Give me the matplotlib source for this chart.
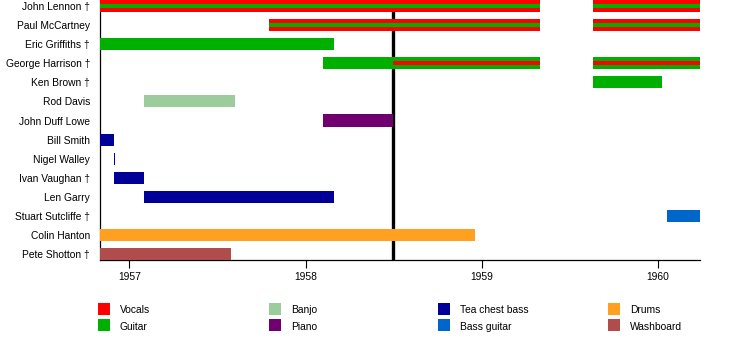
import matplotlib
matplotlib.use("Agg")
import matplotlib.pyplot as plt
import matplotlib.dates as mdates
from matplotlib.patches import Rectangle
from datetime import date

plt.rcParams['font.family'] = ['Liberation Sans', 'DejaVu Sans']
plt.rcParams['font.size'] = 7.4

# rows, top to bottom
members = ["John Lennon †", "Paul McCartney", "Eric Griffiths †", "George Harrison †",
           "Ken Brown †", "Rod Davis", "John Duff Lowe", "Bill Smith", "Nigel Walley",
           "Ivan Vaughan †", "Len Garry", "Stuart Sutcliffe †", "Colin Hanton",
           "Pete Shotton †"]

instruments = ["Vocals", "Guitar", "Banjo", "Piano", "Tea chest bass",
               "Bass guitar", "Drums", "Washboard"]
inst_colours = ["#ff0000", "#00b000", "#9ccc9c", "#700070", "#000099",
                "#0066cc", "#ffa020", "#b04c4c"]

period_start = date(1956, 11, 1)
period_end = date(1960, 3, 28)
recording_date = date(1958, 7, 1)

# one entry per bar: who, from, till, instrument, stripe instrument (None = plain bar)
span_member = ["John Lennon †", "John Lennon †",
               "Paul McCartney", "Paul McCartney",
               "Eric Griffiths †",
               "George Harrison †", "George Harrison †", "George Harrison †",
               "Ken Brown †", "Rod Davis", "John Duff Lowe", "Bill Smith",
               "Nigel Walley", "Ivan Vaughan †", "Len Garry", "Stuart Sutcliffe †",
               "Colin Hanton", "Pete Shotton †"]
span_start = [date(1956, 11, 1), date(1959, 8, 20),
              date(1957, 10, 18), date(1959, 8, 20),
              date(1956, 11, 1),
              date(1958, 2, 6), date(1958, 7, 1), date(1959, 8, 20),
              date(1959, 8, 20), date(1957, 2, 1), date(1958, 2, 6), date(1956, 11, 1),
              date(1956, 12, 1), date(1956, 12, 1), date(1957, 2, 1), date(1960, 1, 20),
              date(1956, 11, 1), date(1956, 11, 1)]
span_end = [date(1959, 5, 1), period_end,
            date(1959, 5, 1), period_end,
            date(1958, 3, 1),
            date(1958, 7, 1), date(1959, 5, 1), period_end,
            date(1960, 1, 10), date(1957, 8, 7), date(1958, 7, 1), date(1956, 12, 1),
            date(1956, 12, 2), date(1957, 2, 1), date(1958, 3, 1), period_end,
            date(1958, 12, 18), date(1957, 7, 30)]
span_inst = ["Vocals", "Vocals",
             "Vocals", "Vocals",
             "Guitar",
             "Guitar", "Guitar", "Guitar",
             "Guitar", "Banjo", "Piano", "Tea chest bass",
             "Tea chest bass", "Tea chest bass", "Tea chest bass", "Bass guitar",
             "Drums", "Washboard"]
span_stripe = ["Guitar", "Guitar",
               "Guitar", "Guitar",
               None,
               None, "Vocals", "Vocals",
               None, None, None, None,
               None, None, None, None,
               None, None]

year_ticks = [date(1957, 1, 1), date(1958, 1, 1), date(1959, 1, 1), date(1960, 1, 1)]

colour_of = dict(zip(instruments, inst_colours))
row_of = {m: i for i, m in enumerate(members)}

W, H = 750, 345
fig = plt.figure(figsize=(W / 100, H / 100), dpi=100)
ax = fig.add_axes([100 / W, 85 / H, 600 / W, 260 / H])

bar_h = 0.63
for m, s, e, inst, stripe in zip(span_member, span_start, span_end, span_inst, span_stripe):
    x0 = mdates.date2num(s)
    w = mdates.date2num(e) - x0
    y = row_of[m]
    ax.barh(y, w, left=x0, height=bar_h, color=colour_of[inst], zorder=3, linewidth=0)
    if stripe:
        ax.barh(y, w, left=x0, height=bar_h / 3, color=colour_of[stripe], zorder=4, linewidth=0)

ax.axvline(mdates.date2num(recording_date), color="black", linewidth=2.4, zorder=2)

ax.set_xlim(mdates.date2num(period_start), mdates.date2num(period_end))
ax.set_ylim(13.31, -0.3145)
ax.set_yticks(range(len(members)))
ax.set_yticklabels(members)
ax.tick_params(axis="y", length=0, pad=7.2)
ax.set_xticks([mdates.date2num(d) for d in year_ticks])
ax.set_xticklabels([str(d.year) for d in year_ticks])
ax.tick_params(axis="x", length=6, width=0.8, pad=2.5)

for side in ["top", "right"]:
    ax.spines[side].set_visible(False)
for side in ["left", "bottom"]:
    ax.spines[side].set_linewidth(0.9)

# legend: 4 columns of 2
col_x = [98, 269, 438, 608]
row_y = [308.5, 325]
for i, (name, c) in enumerate(zip(instruments, inst_colours)):
    cx = col_x[i // 2]
    cy = row_y[i % 2]
    fig.add_artist(Rectangle(((cx) / W, 1 - (cy + 6) / H), 12 / W, 12 / H,
                             transform=fig.transFigure, color=c, linewidth=0))
    fig.text((cx + 22) / W, 1 - (cy + 1.5) / H, name, va="center", ha="left")

fig.savefig("out.png", dpi=100)
